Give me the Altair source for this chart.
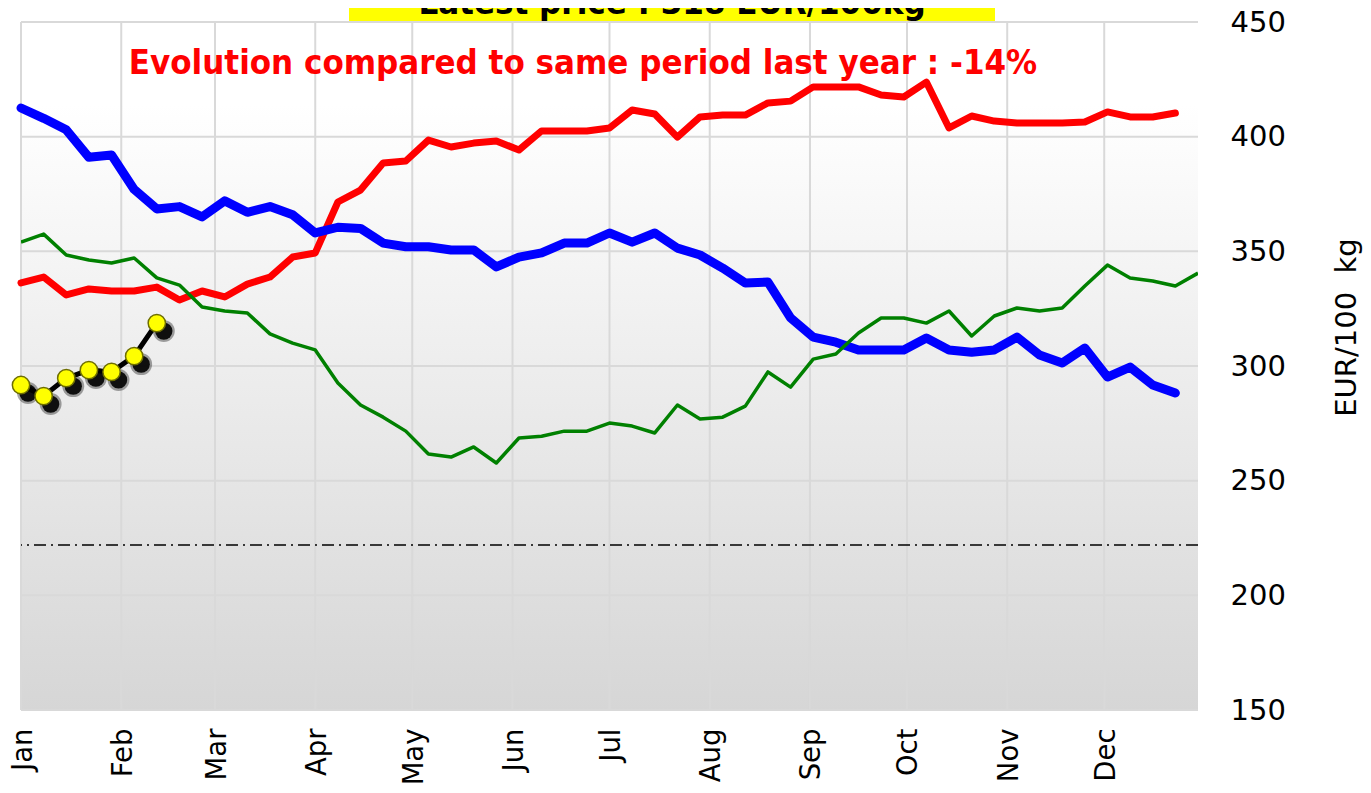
import altair as alt
import pandas as pd

# ---------------- data ----------------
week_dates = pd.date_range("2024-01-01", periods=53, freq="7D").strftime("%Y-%m-%d").tolist()

blue_values = [412.5, 408, 403, 391, 392, 377, 368.5, 369.5, 365, 372, 367, 369.5, 366, 358,
               360.5, 360, 353.6, 352, 352, 350.6, 350.6, 343.2, 347.5, 349.3, 353.6, 353.6,
               358, 354, 358, 351.4, 348.4, 342.7, 336.2, 336.6, 321, 312.6, 310.4, 307, 307,
               307, 312.2, 307, 306, 307, 312.6, 304.8, 301.3, 307.8, 295.2, 299.5, 291.7, 288.2]

red_values = [336.2, 338.8, 331, 333.6, 332.7, 332.7, 334.4, 328.8, 332.7, 330.1, 335.7, 338.8,
              347.5, 349.3, 371.5, 376.7, 388.5, 389.4, 398.5, 395.5, 397.2, 398.1, 394.2, 402.5,
              402.5, 402.5, 403.8, 411.6, 409.9, 399.8, 408.6, 409.4, 409.4, 414.7, 415.5, 421.7,
              421.7, 421.7, 418.2, 417.3, 423.8, 403.8, 409, 406.8, 406, 406, 406, 406.4, 410.8,
              408.6, 408.6, 410.3]

green_values = [354, 357.5, 348.4, 346.2, 344.9, 347.1, 338.4, 335.3, 325.7, 324, 323.1, 314,
                310, 307, 292.6, 283, 277.7, 271.6, 261.6, 260.3, 264.7, 257.7, 268.6, 269.4,
                271.6, 271.6, 275.1, 273.8, 270.8, 283, 276.9, 277.7, 282.5, 297.4, 290.8, 303,
                305.2, 314.4, 320.9, 320.9, 318.7, 324, 313.1, 321.8, 325.3, 324, 325.3, 334.9,
                344, 338.4, 337.1, 334.9, 340.5]

current_values = [291.7, 286.9, 294.7, 298.2, 297.4, 304.3, 318.7]

reference_level = [222]
y_ticks = [150, 200, 250, 300, 350, 400, 450]
month_starts = ["2024-%02d-01" % m for m in range(1, 13)]

title_text = "Latest price : 318 EUR/100kg"
evolution_text = "Evolution compared to same period last year : -14%"
y_title = "EUR/100\u00a0 kg"

# ---------------- layout ----------------
W, H = 1177, 688
FONT = "DejaVu Sans"
BOLD_FONT = "DejaVu Sans Condensed, DejaVu Sans"

x_scale = alt.Scale(type="utc",
                    domain=[alt.DateTime(year=2024, month=1, date=1, utc=True),
                            alt.DateTime(year=2024, month=12, date=30, utc=True)])
y_scale = alt.Scale(domain=[150, 450], nice=False, zero=False)

x_axis = alt.Axis(values=[alt.DateTime(year=2024, month=m, date=1, utc=True) for m in range(1, 13)],
                  format="%b", labelAngle=270, labelFontSize=27.5, labelFont=FONT,
                  labelColor="black", ticks=False, domain=False, grid=False,
                  labelPadding=18, labelOffset=2, labelFlush=False, labelOverlap=False,
                  title=None)
y_axis = alt.Axis(orient="right", values=y_ticks, labelFontSize=29, labelFont=FONT,
                  labelColor="black", ticks=False, domain=False, grid=False, labelPadding=32,
                  labelFlush=False, title=y_title, titleFont=FONT, titleFontSize=29,
                  titleFontWeight="normal", titleColor="black", titleAngle=270,
                  titleX=148, titleY=305, titleAlign="center", titleBaseline="middle")

X = lambda f: alt.X(f, scale=x_scale, axis=x_axis)
Y = lambda f: alt.Y(f, scale=y_scale, axis=y_axis)


def series_df(vals):
    return pd.DataFrame({"date": week_dates[:len(vals)], "value": vals})


one_row = alt.Data(values=[{"k": 1}])

gradient = alt.Gradient(
    gradient="linear",
    stops=[alt.GradientStop(offset=0, color="#ffffff"),
           alt.GradientStop(offset=0.12, color="#ffffff"),
           alt.GradientStop(offset=1, color="#d6d6d6")],
    x1=0, x2=0, y1=0, y2=1)

background = alt.Chart(one_row).mark_rect(fill=gradient).encode(
    x=alt.value(0), x2=alt.value(W), y=alt.value(0), y2=alt.value(H))

ygrid = alt.Chart(pd.DataFrame({"value": y_ticks})).mark_rule(color="#d9d9d9", strokeWidth=2).encode(
    y=Y("value:Q"))

xgrid = alt.Chart(pd.DataFrame({"date": month_starts})).mark_rule(color="#d9d9d9", strokeWidth=2).encode(
    x=X("date:T"))

dashdot = alt.Chart(pd.DataFrame({"value": reference_level})).mark_rule(
    color="black", strokeWidth=1.5, strokeDash=[12, 5, 2, 5]).encode(y=Y("value:Q"))

title_box = alt.Chart(one_row).mark_rect(fill="#ffff00").encode(
    x=alt.value(328), x2=alt.value(974), y=alt.value(-40), y2=alt.value(-1))

title_mark = alt.Chart(alt.Data(values=[{"t": title_text}])).mark_text(
    font=BOLD_FONT, fontSize=34.5, fontWeight="bold", color="black", align="center",
    baseline="alphabetic").encode(x=alt.value(651), y=alt.value(-8), text="t:N")

evolution_mark = alt.Chart(alt.Data(values=[{"t": evolution_text}])).mark_text(
    font=BOLD_FONT, fontSize=34.5, fontWeight="bold", color="#ff0000", align="center",
    baseline="alphabetic").encode(x=alt.value(562), y=alt.value(52), text="t:N")

red_line = alt.Chart(series_df(red_values)).mark_line(
    color="#ff0000", strokeWidth=7, strokeCap="round", strokeJoin="round").encode(
    x=X("date:T"), y=Y("value:Q"))

blue_line = alt.Chart(series_df(blue_values)).mark_line(
    color="#0000ff", strokeWidth=9, strokeCap="round", strokeJoin="round").encode(
    x=X("date:T"), y=Y("value:Q"))

green_line = alt.Chart(series_df(green_values)).mark_line(
    color="#008000", strokeWidth=3.5, strokeJoin="round", clip=True).encode(
    x=X("date:T"), y=Y("value:Q"))

cur_df = series_df(current_values)
cur_line = alt.Chart(cur_df).mark_line(color="black", strokeWidth=5).encode(
    x=X("date:T"), y=Y("value:Q"))

shadow_soft = alt.Chart(cur_df).mark_circle(color="black", opacity=0.35, size=480,
                                            xOffset=7, yOffset=8).encode(
    x=X("date:T"), y=Y("value:Q"))

shadow = alt.Chart(cur_df).mark_circle(color="black", opacity=0.9, size=300,
                                       xOffset=7, yOffset=8).encode(
    x=X("date:T"), y=Y("value:Q"))

cur_points = alt.Chart(cur_df).mark_circle(color="#ffff00", opacity=1, size=300,
                                           stroke="#6e6e00", strokeWidth=1.5).encode(
    x=X("date:T"), y=Y("value:Q"))

chart = alt.layer(
    background, ygrid, xgrid, dashdot, title_box, title_mark, evolution_mark,
    red_line, blue_line, green_line, cur_line, shadow_soft, shadow, cur_points
).properties(
    width=W, height=H,
    padding={"left": 13, "top": 14, "right": 165, "bottom": 75},
    autosize=alt.AutoSizeParams(type="none"),
    background="white"
).configure_view(stroke=None)

chart.save("out.html", embed_options={"renderer": "svg", "actions": False})
